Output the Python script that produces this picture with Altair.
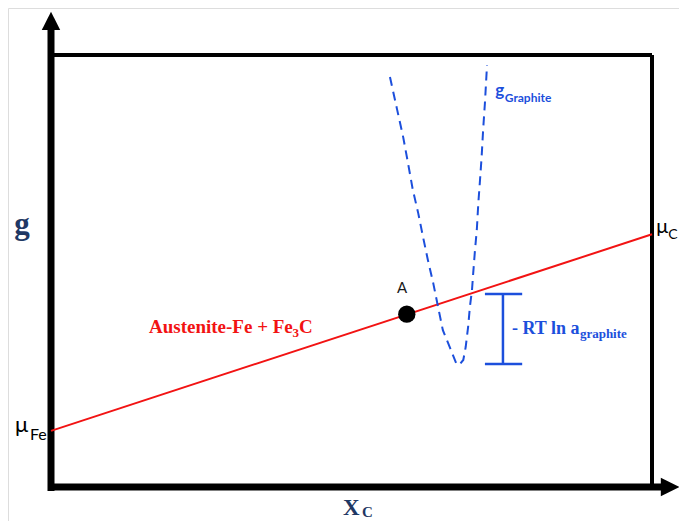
import altair as alt
import pandas as pd

# ---- values (X_C on 0..100 across the box, g on 0..100 up the box) ----
mu_fe = 13.0          # g at X_C = 0
mu_c = 58.5           # g at X_C = 100
tangent_x = [0, 100]
tangent_g = [mu_fe, mu_c]

point_a_x = [59.2]
point_a_g = [40.0]

graphite_x = [56.4, 57.6, 58.6, 59.4, 60.2, 61.1, 61.9, 62.7, 63.6, 64.4, 65.2, 66.4,
              67.4, 67.9, 68.6, 69.0, 69.4, 69.7, 70.05, 70.25, 70.55, 70.85, 71.1,
              71.35, 71.65, 71.9, 72.2, 72.55]
graphite_g = [94.9, 87.3, 81.0, 75.0, 68.8, 63.4, 57.9, 52.6, 47.2, 41.7, 36.3, 32.2,
              28.7, 28.2, 29.4, 32.4, 37.0, 41.7, 45.6, 49.5, 54.9, 59.5, 65.7,
              70.4, 76.4, 82.6, 88.9, 97.7]

# activity bracket (- RT ln a_graphite)
bracket_x = [75.2]
bracket_top = [44.7]
bracket_bottom = [28.5]
bracket_cap = [72.2, 78.4]

# frame of the diagram
box_max = [100]
x_arrow_end = [102.0]
y_arrow_end = [106.0]

# ---- scales: cover the whole page area ----
W, H = 671, 513
x_min = -(51 - 8) / 6.01
x_max = x_min + W / 6.01
y_max = (487 - 8) / 4.32
y_min = y_max - H / 4.32
xs = alt.Scale(domain=[x_min, x_max], nice=False, zero=False)
ys = alt.Scale(domain=[y_min, y_max], nice=False, zero=False)

RED = "#f21313"
BLUE = "#1c4fdc"
NAVY = "#1f3864"


def X(field, **kw):
    return alt.X(field, type="quantitative", scale=xs, axis=None, **kw)


def Y(field, **kw):
    return alt.Y(field, type="quantitative", scale=ys, axis=None, **kw)


def rules(df, color, width):
    return alt.Chart(df).mark_rule(color=color, strokeWidth=width).encode(
        x=X("x"), x2="x2", y=Y("y"), y2="y2")


# frame: y axis, x axis, top edge, right edge
frame_df = pd.DataFrame({
    "x":  [0, -0.5, 0, box_max[0]],
    "x2": [0, x_arrow_end[0], box_max[0], box_max[0]],
    "y":  [-0.9, 0, box_max[0], 0],
    "y2": [y_arrow_end[0], 0, box_max[0], box_max[0]],
})
axes_df = frame_df.iloc[:2]
edges_df = frame_df.iloc[2:]
axes = rules(axes_df, "black", 7)
edges = rules(edges_df, "black", 4)

arrow_up = alt.Chart(pd.DataFrame({"x": [0], "y": [107.9]})).mark_point(
    shape="M0,-1L1,1L-1,1Z", filled=True, color="black", opacity=1, size=340, strokeWidth=0
).encode(x=X("x"), y=Y("y"))
arrow_right = alt.Chart(pd.DataFrame({"x": [103.0], "y": [0]})).mark_point(
    shape="M1,0L-1,-1L-1,1Z", filled=True, color="black", opacity=1, size=340, strokeWidth=0
).encode(x=X("x"), y=Y("y"))

tangent = alt.Chart(pd.DataFrame({"x": tangent_x, "g": tangent_g})).mark_line(
    color=RED, strokeWidth=2
).encode(x=X("x"), y=Y("g"))

graphite = alt.Chart(pd.DataFrame({"x": graphite_x, "g": graphite_g,
                                   "i": list(range(len(graphite_x)))})).mark_line(
    color=BLUE, strokeWidth=2, strokeDash=[9, 6]
).encode(x=X("x"), y=Y("g"), order="i:Q")

bracket_df = pd.DataFrame({
    "x":  [bracket_x[0], bracket_cap[0], bracket_cap[0]],
    "x2": [bracket_x[0], bracket_cap[1], bracket_cap[1]],
    "y":  [bracket_bottom[0], bracket_top[0], bracket_bottom[0]],
    "y2": [bracket_top[0], bracket_top[0], bracket_bottom[0]],
})
bracket = rules(bracket_df, BLUE, 2.5)

point_a = alt.Chart(pd.DataFrame({"x": point_a_x, "g": point_a_g})).mark_point(
    shape="circle", filled=True, color="black", opacity=1, size=300
).encode(x=X("x"), y=Y("g"))


def label(text, x, y, font, size, weight, color, align="left"):
    return alt.Chart(pd.DataFrame({"t": [text], "x": [x], "y": [y]})).mark_text(
        font=font, fontSize=size, fontWeight=weight, color=color,
        align=align, baseline="alphabetic"
    ).encode(x=X("x"), y=Y("y"), text="t:N")


SERIF = "Liberation Serif"
SANS = "Lato"
texts = [
    label("g", -4.83, 58.6, SERIF, 31, "bold", NAVY, "center"),
    label("X", 48.6, -6.5, SERIF, 23, "bold", NAVY),
    label("C", 51.75, -6.95, SERIF, 15, "bold", NAVY),
    label("\u03bc", -6.0, 12.7, SANS, 22, "normal", "black"),
    label("Fe", -3.5, 10.9, SANS, 16, "normal", "black"),
    label("\u03bc", 100.7, 58.8, SANS, 20, "normal", "black"),
    label("C", 102.7, 57.4, SANS, 14, "normal", "black"),
    label("A", 58.4, 44.9, SANS, 15, "normal", "#1a1a1a", "center"),
    label("Austenite-Fe + Fe", 16.3, 35.65, SERIF, 19, "bold", RED),
    label("3", 40.18, 34.7, SERIF, 13, "bold", RED),
    label("C", 41.26, 35.65, SERIF, 19, "bold", RED),
    label("g", 73.9, 90.5, SANS, 17, "bold", BLUE),
    label("Graphite", 75.5, 89.1, SANS, 12, "bold", BLUE),
    label("- RT ln a", 76.7, 35.4, SERIF, 18, "bold", BLUE),
    label("graphite", 88.0, 34.5, SERIF, 13, "bold", BLUE),
]

chart = alt.layer(edges, axes, arrow_up, arrow_right, tangent, graphite, bracket,
                  point_a, *texts).properties(
    width=W, height=H, autosize="none", padding=0
).configure_view(strokeWidth=0).configure(background="white")

chart.save("out.html", embed_options={"renderer": "svg", "actions": False})
